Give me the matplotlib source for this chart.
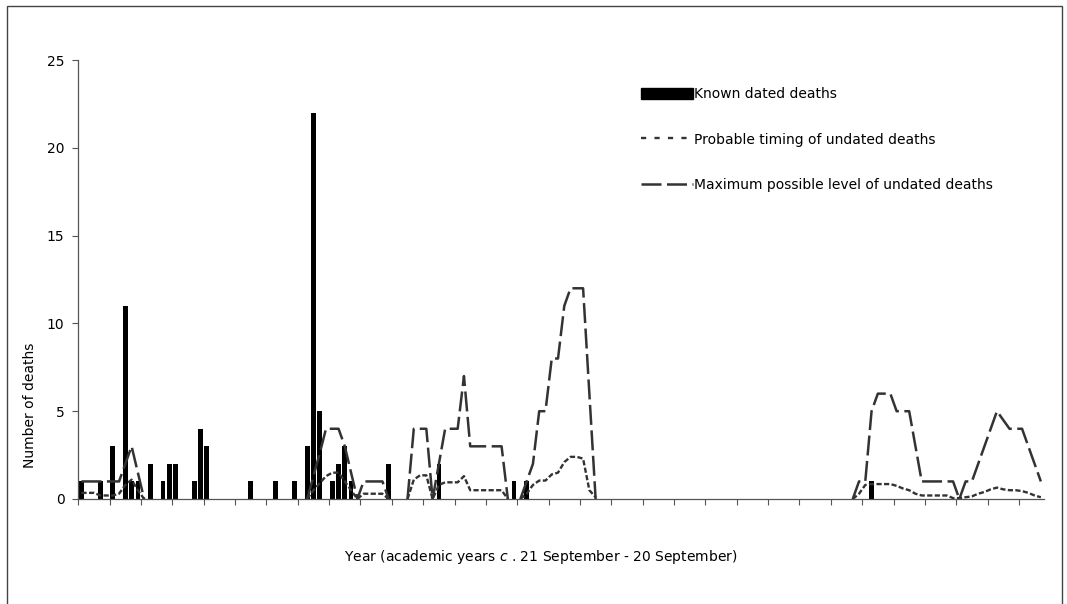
import numpy as np
import matplotlib
matplotlib.use("Agg")
import matplotlib.pyplot as plt
from matplotlib.patches import Patch, Rectangle
from matplotlib.lines import Line2D

# 154 periods on a category axis, a tick every 5 periods
N_PERIODS = 154
TICK_EVERY = 5

# known dated deaths: period index -> count
known_idx = [0, 3, 5, 7, 8, 9, 11, 13, 14, 15, 18, 19, 20, 27, 31, 34, 36, 37,
             38, 40, 41, 42, 43, 49, 57, 69, 71, 126]
known_val = [1, 1, 3, 11, 1, 1, 2, 1, 2, 2, 1, 4, 3, 1, 1, 1, 3, 22,
             5, 1, 2, 3, 1, 2, 2, 1, 1, 1]

# maximum possible level of undated deaths (blank where no value)
max_pts = {
    0: 1, 1: 1, 2: 1, 3: 1, 4: 1, 5: 1, 6: 1, 7: 2, 8: 3, 9: 1.5, 10: 0,
    36: 0, 37: 1.3, 38: 2.6, 39: 4, 40: 4, 41: 4, 42: 3, 43: 1.5, 44: 0,
    45: 1, 46: 1, 47: 1, 48: 1, 49: 0,
    52: 0, 53: 4, 54: 4, 55: 4, 56: 0, 57: 2, 58: 4, 59: 4, 60: 4, 61: 7,
    62: 3, 63: 3, 64: 3, 65: 3, 66: 3, 67: 3, 68: 0,
    70: 0, 71: 1, 72: 2, 73: 5, 74: 5, 75: 8, 76: 8, 77: 11, 78: 12, 79: 12,
    80: 12, 81: 6, 82: 0,
    123: 0, 124: 1, 125: 1, 126: 5, 127: 6, 128: 6, 129: 6, 130: 5, 131: 5,
    132: 5, 133: 3, 134: 1, 135: 1, 136: 1, 137: 1, 138: 1, 139: 1, 140: 0,
    141: 1, 142: 1, 143: 2, 144: 3, 145: 4, 146: 5, 147: 4.5, 148: 4,
    149: 4, 150: 4, 151: 3, 152: 2, 153: 1,
}

# probable timing of undated deaths
prob_pts = {
    0: 0.35, 1: 0.35, 2: 0.35, 3: 0.2, 4: 0.2, 5: 0.2, 6: 0.3, 7: 0.8,
    8: 1.1, 9: 0.5, 10: 0,
    36: 0, 37: 0.5, 38: 0.9, 39: 1.3, 40: 1.5, 41: 1.5, 42: 1, 43: 0.5, 44: 0,
    45: 0.3, 46: 0.3, 47: 0.3, 48: 0.3, 49: 0,
    52: 0, 53: 1.1, 54: 1.35, 55: 1.35, 56: 0, 57: 0.8, 58: 0.95, 59: 0.95,
    60: 0.95, 61: 1.3, 62: 0.5, 63: 0.5, 64: 0.5, 65: 0.5, 66: 0.5, 67: 0.5,
    68: 0,
    70: 0, 71: 0.3, 72: 0.8, 73: 1.05, 74: 1.05, 75: 1.4, 76: 1.5, 77: 2.1,
    78: 2.4, 79: 2.4, 80: 2.3, 81: 0.5, 82: 0.1,
    123: 0, 124: 0.3, 125: 0.8, 126: 0.85, 127: 0.85, 128: 0.85, 129: 0.85,
    130: 0.75, 131: 0.6, 132: 0.5, 133: 0.3, 134: 0.2, 135: 0.2, 136: 0.2,
    137: 0.2, 138: 0.2, 139: 0.05, 140: 0.05, 141: 0.1, 142: 0.15, 143: 0.3,
    144: 0.4, 145: 0.55, 146: 0.65, 147: 0.55, 148: 0.5, 149: 0.5, 150: 0.45,
    151: 0.35, 152: 0.2, 153: 0.1,
}


def to_series(pts):
    s = np.full(N_PERIODS, np.nan)
    for k, v in pts.items():
        s[k] = v
    return s


max_level = to_series(max_pts)
probable = to_series(prob_pts)
x = np.arange(N_PERIODS)

line_col = "#333333"
plt.rcParams["font.family"] = ["DejaVu Sans"]

fig = plt.figure(figsize=(10.67, 6.04), dpi=100)
ax = fig.add_axes([78.3 / 1067, 105 / 604, (1044 - 78.3) / 1067, 439 / 604])

ax.bar(known_idx, known_val, width=0.75, color="black", zorder=2)
ax.plot(x, probable, color=line_col, lw=1.7, dashes=(2.2, 1.0), zorder=3)
ax.plot(x, max_level, color=line_col, lw=1.8, dashes=(8, 2.2), zorder=3)

ax.set_xlim(-0.5, N_PERIODS - 0.5)
ax.set_ylim(0, 25)
ax.set_yticks(range(0, 26, 5))
ax.set_xticks(np.arange(-0.5, N_PERIODS - 0.5, TICK_EVERY))
ax.set_xticklabels([])
ax.tick_params(axis="both", direction="out", length=4, width=0.8,
               color="#555555", labelsize=10, pad=6)
for side in ("top", "right"):
    ax.spines[side].set_visible(False)
for side in ("left", "bottom"):
    ax.spines[side].set_color("#555555")
    ax.spines[side].set_linewidth(0.9)

handles = [
    Patch(facecolor="black", edgecolor="black"),
    Line2D([], [], color=line_col, lw=1.7, dashes=(2.2, 3.5)),
    Line2D([], [], color=line_col, lw=1.8, dashes=(8, 2.2)),
]
labels = ["Known dated deaths", "Probable timing of undated deaths",
          "Maximum possible level of undated deaths"]
fig.legend(handles, labels, loc="upper left",
           bbox_to_anchor=(641 / 1067, 1 - 87 / 604), frameon=False,
           fontsize=10, handlelength=3.75, handleheight=0.83,
           handletextpad=0.1, labelspacing=2.27, borderpad=0,
           borderaxespad=0)

fig.text(30 / 1067, 1 - 405 / 604, "Number of deaths", rotation=90,
         ha="center", va="center", fontsize=10)
fig.text(541 / 1067, 1 - 557 / 604,
         "Year (academic years $c$ . 21 September - 20 September)",
         ha="center", va="center", fontsize=10)

# outer frame around the chart
fig.add_artist(Rectangle((7 / 1067, -0.05), (1062 - 7) / 1067,
                         1 - 6 / 604 + 0.05, transform=fig.transFigure,
                         fill=False, edgecolor="#444444", lw=1.0))

fig.savefig("out.png", dpi=100)
